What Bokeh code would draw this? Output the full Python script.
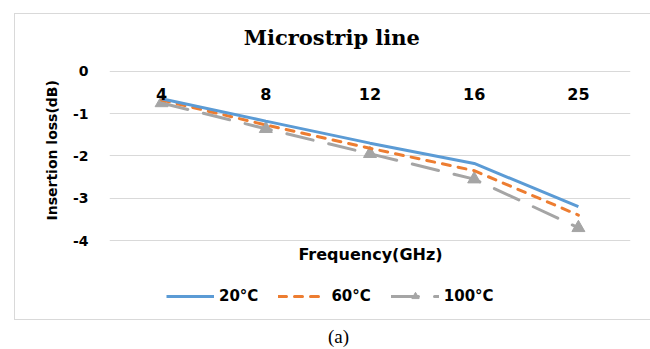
from bokeh.plotting import figure
from bokeh.models import (FactorRange, Range1d, Legend, LegendItem, Label,
                          FixedTicker, Title, InlineStyleSheet)
from bokeh.embed import file_html
from bokeh.resources import INLINE

# ---- data ----
freqs = ["4", "8", "12", "16", "25"]
loss_20 = [-0.65, -1.18, -1.70, -2.18, -3.20]
loss_60 = [-0.68, -1.27, -1.82, -2.35, -3.40]
loss_100 = [-0.75, -1.36, -1.95, -2.55, -3.70]
y_ticks = [0, -1, -2, -3, -4]
series_names = ["20°C", "60°C", "100°C"]

BLUE = "#5B9BD5"
ORANGE = "#ED7D31"
GRAY = "#A5A5A5"
SANS = "DejaVu Sans"

p = figure(width=650, height=349, title=None,
           x_range=FactorRange(*freqs), y_range=Range1d(-6.575, 1.1506),
           x_axis_location="above",
           output_backend="svg", toolbar_location=None,
           min_border_left=109, min_border_right=20,
           min_border_top=22, min_border_bottom=0)
p.outline_line_color = None
p.background_fill_color = "white"
p.border_fill_color = "white"

# chart box border (CSS around the chart area)
p.stylesheets = [InlineStyleSheet(css="""
:host::after {
  content: ""; position: absolute; left: 14px; top: 13px; right: 0px;
  height: 307px; border: 1px solid #D9D9D9; border-right: none;
  pointer-events: none; box-sizing: border-box;
}
:host { position: relative; }
""")]

# grid
p.xgrid.visible = False
p.ygrid.grid_line_color = "#D9D9D9"
p.ygrid.grid_line_width = 1
p.ygrid.ticker = FixedTicker(ticks=y_ticks)

# y axis
ya = p.yaxis[0]
ya.ticker = FixedTicker(ticks=y_ticks)
ya.major_label_overrides = {t: str(t) for t in y_ticks}
ya.axis_line_color = None
ya.major_tick_line_color = None
ya.minor_tick_line_color = None
ya.major_tick_in = 0
ya.major_tick_out = 0
ya.major_label_text_font = SANS
ya.major_label_text_font_style = "bold"
ya.major_label_text_font_size = "14px"
ya.major_label_text_color = "black"
ya.major_label_standoff = 21

ytitle = Title(text="Insertion loss(dB)", align="left", offset=129,
               text_font=SANS, text_font_style="bold", text_font_size="14px",
               text_color="black", standoff=19)
p.add_layout(ytitle, "left")

# x axis: category labels just below the 0 line
xa = p.xaxis[0]
xa.fixed_location = -0.676
xa.axis_line_color = None
xa.major_tick_line_color = None
xa.minor_tick_line_color = None
xa.major_tick_in = 0
xa.major_tick_out = 0
xa.major_label_text_font = SANS
xa.major_label_text_font_style = "bold"
xa.major_label_text_font_size = "16px"
xa.major_label_text_color = "black"
xa.major_label_standoff = 0

# series
r100 = p.line(freqs, loss_100, line_color=GRAY, line_width=3,
              line_dash="27 16", line_cap="round")
r100m = p.scatter(freqs, loss_100, marker="triangle", size=13,
                  fill_color=GRAY, line_color=GRAY)
r60 = p.line(freqs, loss_60, line_color=ORANGE, line_width=3,
             line_dash="8 8", line_cap="round")
r20 = p.line(freqs, loss_20, line_color=BLUE, line_width=3)

legend = Legend(items=[LegendItem(label=series_names[0], renderers=[r20]),
                       LegendItem(label=series_names[1], renderers=[r60]),
                       LegendItem(label=series_names[2], renderers=[r100, r100m])],
                orientation="horizontal", location=(57, 44),
                glyph_width=48, glyph_height=18, label_standoff=5,
                spacing=20, padding=0, margin=0,
                label_text_font=SANS, label_text_font_style="bold",
                label_text_font_size="15px", label_text_color="black",
                border_line_color=None, background_fill_alpha=0)
p.add_layout(legend, "center")

# title, x-axis title, caption
p.add_layout(Label(x=335, y=37, x_units="canvas", y_units="canvas",
                   text="Microstrip  line", text_font="DejaVu Serif",
                   text_font_style="bold", text_font_size="21px",
                   text_align="center", text_baseline="middle",
                   text_color="black"))
p.add_layout(Label(x=370, y=254, x_units="canvas", y_units="canvas",
                   text="Frequency(GHz)", text_font=SANS,
                   text_font_style="bold", text_font_size="16px",
                   text_align="center", text_baseline="middle",
                   text_color="black"))
p.add_layout(Label(x=338, y=336, x_units="canvas", y_units="canvas",
                   text="(a)", text_font="Liberation Serif",
                   text_font_size="19px",
                   text_align="center", text_baseline="middle",
                   text_color="black"))

open("out.html", "w").write(file_html(p, INLINE))
